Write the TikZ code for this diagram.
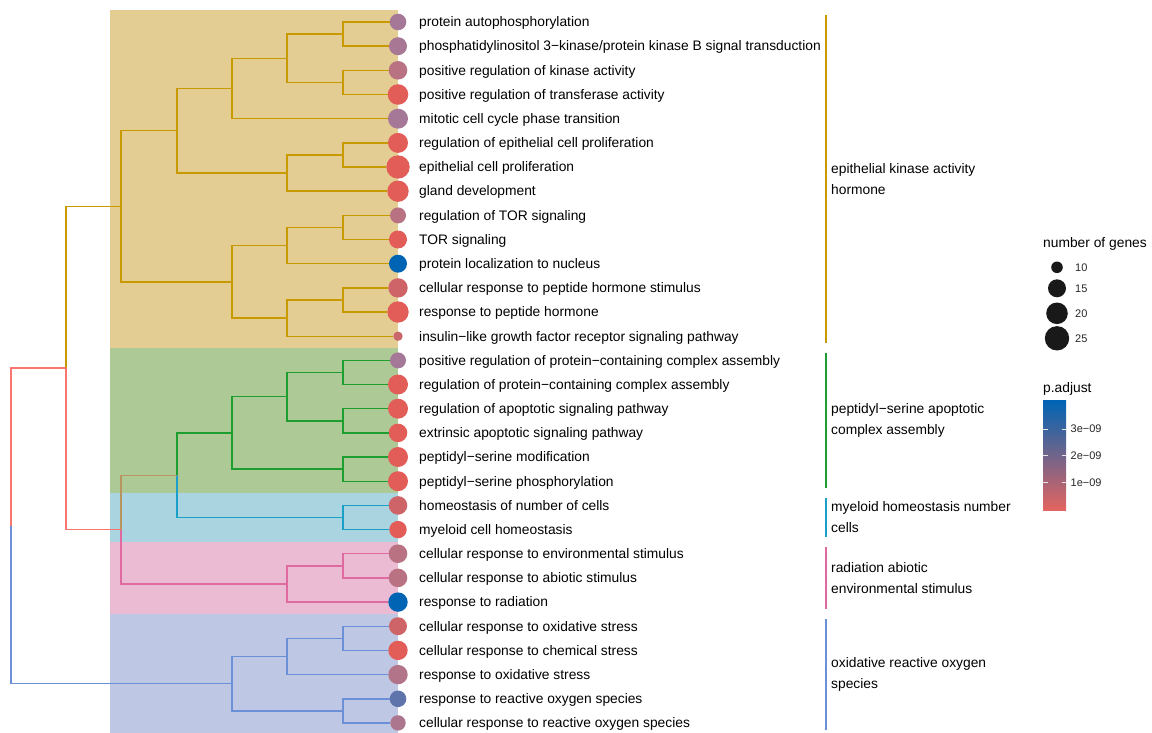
\documentclass[tikz,border=0pt]{standalone}
\usepackage{fontspec}
\setmainfont{Liberation Sans}
\usepackage{xcolor}
\usetikzlibrary{shapes, positioning}

\definecolor{bgYellow}{HTML}{E4CD92}
\definecolor{bgGreen}{HTML}{ADCA96}
\definecolor{bgCyan}{HTML}{AAD4DF}
\definecolor{bgPink}{HTML}{EBBBD4}
\definecolor{bgBlue}{HTML}{BEC8E4}
\definecolor{lnGold}{HTML}{C99A00}
\definecolor{lnGreen}{HTML}{1E9E2E}
\definecolor{lnCyan}{HTML}{1AA0C8}
\definecolor{lnPink}{HTML}{E06AA0}
\definecolor{lnBlue}{HTML}{6B90D8}
\definecolor{lnSalmon}{HTML}{F8766D}
\definecolor{lnTan}{HTML}{B8955E}
\definecolor{pRed}{HTML}{E25C58}
\definecolor{pRose}{HTML}{CE6468}
\definecolor{pMauve}{HTML}{B87282}
\definecolor{pPlum}{HTML}{A47896}
\definecolor{pBlue}{HTML}{0064B4}
\definecolor{pSlate}{HTML}{5E74AA}
\definecolor{pMid}{HTML}{A8748F}

\begin{document}
\begin{tikzpicture}[x=1pt, y=-1pt,
    leaf/.style={circle, inner sep=0pt, draw=none},
    term/.style={anchor=west, inner sep=0pt, text height=10pt, text depth=0.4pt, font=\fontsize{13.8}{16}\selectfont},
    cluster/.style={anchor=west, inner sep=0pt, align=left, font=\fontsize{13.8}{21}\selectfont},
    tick/.style={anchor=west, inner sep=0pt, text=black!85, font=\fontsize{11}{12}\selectfont},
    branch/.style={line width=1.4pt}]
          \useasboundingbox (0,0) rectangle (1152,733);

          % cluster backgrounds
          \fill[bgYellow] (110,10) rectangle (398,348.3);
          \fill[bgGreen] (110,348.3) rectangle (398,493.3);
          \fill[bgCyan] (110,493.3) rectangle (398,541.6);
          \fill[bgPink] (110,541.6) rectangle (398,614.2);
          \fill[bgBlue] (110,614.2) rectangle (398,733);

          \coordinate (a12) at (343,34.1);
          \coordinate (a34) at (343,82.4);
          \coordinate (a14) at (287,58.3);
          \coordinate (a15) at (232,88.5);
          \coordinate (a67) at (343,155.0);
          \coordinate (a68) at (287,173.1);
          \coordinate (a18) at (177,130.8);
          \coordinate (a910) at (343,227.5);
          \coordinate (a911) at (287,245.6);
          \coordinate (a1213) at (343,300.0);
          \coordinate (a1214) at (287,318.1);
          \coordinate (a914) at (232,281.9);
          \coordinate (aTop) at (121,206.3);

          \coordinate (b1516) at (343,372.5);
          \coordinate (b1718) at (343,420.8);
          \coordinate (b1518) at (287,396.6);
          \coordinate (b1920) at (343,469.1);
          \coordinate (bTop) at (232,432.9);
          \coordinate (c2122) at (343,517.5);
          \coordinate (bcTop) at (177,475.2);
          \coordinate (d2324) at (343,565.8);
          \coordinate (dTop) at (287,583.9);
          \coordinate (bcdTop) at (121,529.6);
          \coordinate (upper) at (66,367.9);

          \coordinate (e2627) at (343,638.3);
          \coordinate (e2628) at (287,656.5);
          \coordinate (e2930) at (343,710.9);
          \coordinate (eTop) at (232,683.7);
          \coordinate (root) at (11,525.8);

          \node[leaf, minimum size=16.6pt, fill=pPlum] (l1) at (398,22.0) {};
          \node[leaf, minimum size=18pt, fill=pPlum!85!pMauve] (l2) at (398,46.2) {};
          \node[leaf, minimum size=18.6pt, fill=pMauve] (l3) at (398,70.3) {};
          \node[leaf, minimum size=20.6pt, fill=pRed] (l4) at (398,94.5) {};
          \node[leaf, minimum size=20pt, fill=pPlum] (l5) at (398,118.7) {};
          \node[leaf, minimum size=20pt, fill=pRed] (l6) at (398,142.9) {};
          \node[leaf, minimum size=23.4pt, fill=pRed] (l7) at (398,167.0) {};
          \node[leaf, minimum size=21.4pt, fill=pRed] (l8) at (398,191.2) {};
          \node[leaf, minimum size=16pt, fill=pMauve] (l9) at (398,215.4) {};
          \node[leaf, minimum size=18pt, fill=pRed] (l10) at (398,239.5) {};
          \node[leaf, minimum size=18pt, fill=pBlue] (l11) at (398,263.7) {};
          \node[leaf, minimum size=19.4pt, fill=pRose] (l12) at (398,287.9) {};
          \node[leaf, minimum size=21.4pt, fill=pRed] (l13) at (398,312.0) {};
          \node[leaf, minimum size=9.4pt, fill=pRose!80!pMauve] (l14) at (398,336.2) {};
          \node[leaf, minimum size=16pt, fill=pPlum] (l15) at (398,360.4) {};
          \node[leaf, minimum size=20pt, fill=pRed] (l16) at (398,384.5) {};
          \node[leaf, minimum size=20pt, fill=pRed] (l17) at (398,408.7) {};
          \node[leaf, minimum size=18.6pt, fill=pRed] (l18) at (398,432.9) {};
          \node[leaf, minimum size=20pt, fill=pRed] (l19) at (398,457.0) {};
          \node[leaf, minimum size=20pt, fill=pRed] (l20) at (398,481.2) {};
          \node[leaf, minimum size=18.6pt, fill=pRose] (l21) at (398,505.4) {};
          \node[leaf, minimum size=17.4pt, fill=pRed] (l22) at (398,529.6) {};
          \node[leaf, minimum size=18.6pt, fill=pMauve] (l23) at (398,553.7) {};
          \node[leaf, minimum size=18.6pt, fill=pMauve] (l24) at (398,577.9) {};
          \node[leaf, minimum size=19.4pt, fill=pBlue] (l25) at (398,602.1) {};
          \node[leaf, minimum size=18pt, fill=pRose] (l26) at (398,626.2) {};
          \node[leaf, minimum size=19.4pt, fill=pRed] (l27) at (398,650.4) {};
          \node[leaf, minimum size=19.4pt, fill=pMauve!70!pPlum] (l28) at (398,674.6) {};
          \node[leaf, minimum size=16.6pt, fill=pSlate] (l29) at (398,698.8) {};
          \node[leaf, minimum size=15.4pt, fill=pPlum!60!pMauve] (l30) at (398,722.9) {};

          \draw[branch, lnGold] (a12) |- (l1);
          \draw[branch, lnGold] (a12) |- (l2);
          \draw[branch, lnGold] (a34) |- (l3);
          \draw[branch, lnGold] (a34) |- (l4);
          \draw[branch, lnGold] (a14) |- (a12);
          \draw[branch, lnGold] (a14) |- (a34);
          \draw[branch, lnGold] (a15) |- (a14);
          \draw[branch, lnGold] (a15) |- (l5);
          \draw[branch, lnGold] (a67) |- (l6);
          \draw[branch, lnGold] (a67) |- (l7);
          \draw[branch, lnGold] (a68) |- (a67);
          \draw[branch, lnGold] (a68) |- (l8);
          \draw[branch, lnGold] (a18) |- (a15);
          \draw[branch, lnGold] (a18) |- (a68);
          \draw[branch, lnGold] (a910) |- (l9);
          \draw[branch, lnGold] (a910) |- (l10);
          \draw[branch, lnGold] (a911) |- (a910);
          \draw[branch, lnGold] (a911) |- (l11);
          \draw[branch, lnGold] (a1213) |- (l12);
          \draw[branch, lnGold] (a1213) |- (l13);
          \draw[branch, lnGold] (a1214) |- (a1213);
          \draw[branch, lnGold] (a1214) |- (l14);
          \draw[branch, lnGold] (a914) |- (a911);
          \draw[branch, lnGold] (a914) |- (a1214);
          \draw[branch, lnGold] (aTop) |- (a18);
          \draw[branch, lnGold] (aTop) |- (a914);

          \draw[branch, lnGreen] (b1516) |- (l15);
          \draw[branch, lnGreen] (b1516) |- (l16);
          \draw[branch, lnGreen] (b1718) |- (l17);
          \draw[branch, lnGreen] (b1718) |- (l18);
          \draw[branch, lnGreen] (b1518) |- (b1516);
          \draw[branch, lnGreen] (b1518) |- (b1718);
          \draw[branch, lnGreen] (b1920) |- (l19);
          \draw[branch, lnGreen] (b1920) |- (l20);
          \draw[branch, lnGreen] (bTop) |- (b1518);
          \draw[branch, lnGreen] (bTop) |- (b1920);
          \draw[branch, lnCyan] (c2122) |- (l21);
          \draw[branch, lnCyan] (c2122) |- (l22);
          \draw[branch, lnGreen] (bcTop) |- (bTop);
          \draw[branch, lnCyan] (bcTop) |- (c2122);

          \draw[branch, lnPink] (d2324) |- (l23);
          \draw[branch, lnPink] (d2324) |- (l24);
          \draw[branch, lnPink] (dTop) |- (d2324);
          \draw[branch, lnPink] (dTop) |- (l25);
          \draw[branch, lnTan] (bcdTop) |- (bcTop);
          \draw[branch, lnPink] (bcdTop) |- (dTop);

          \draw[branch, lnGold] (upper) |- (aTop);
          \draw[branch, lnSalmon] (upper) |- (bcdTop);

          \draw[branch, lnBlue] (e2627) |- (l26);
          \draw[branch, lnBlue] (e2627) |- (l27);
          \draw[branch, lnBlue] (e2628) |- (e2627);
          \draw[branch, lnBlue] (e2628) |- (l28);
          \draw[branch, lnBlue] (e2930) |- (l29);
          \draw[branch, lnBlue] (e2930) |- (l30);
          \draw[branch, lnBlue] (eTop) |- (e2628);
          \draw[branch, lnBlue] (eTop) |- (e2930);

          \draw[branch, lnSalmon] (root) |- (upper);
          \draw[branch, lnBlue] (root) |- (eTop);

          \node[term] (t1) at (419,22.0) {protein autophosphorylation};
          \node[term] (t2) at (419,46.2) {phosphatidylinositol 3−kinase/protein kinase B signal transduction};
          \node[term] (t3) at (419,70.3) {positive regulation of kinase activity};
          \node[term] (t4) at (419,94.5) {positive regulation of transferase activity};
          \node[term] (t5) at (419,118.7) {mitotic cell cycle phase transition};
          \node[term] (t6) at (419,142.9) {regulation of epithelial cell proliferation};
          \node[term] (t7) at (419,167.0) {epithelial cell proliferation};
          \node[term] (t8) at (419,191.2) {gland development};
          \node[term] (t9) at (419,215.4) {regulation of TOR signaling};
          \node[term] (t10) at (419,239.5) {TOR signaling};
          \node[term] (t11) at (419,263.7) {protein localization to nucleus};
          \node[term] (t12) at (419,287.9) {cellular response to peptide hormone stimulus};
          \node[term] (t13) at (419,312.0) {response to peptide hormone};
          \node[term] (t14) at (419,336.2) {insulin−like growth factor receptor signaling pathway};
          \node[term] (t15) at (419,360.4) {positive regulation of protein−containing complex assembly};
          \node[term] (t16) at (419,384.5) {regulation of protein−containing complex assembly};
          \node[term] (t17) at (419,408.7) {regulation of apoptotic signaling pathway};
          \node[term] (t18) at (419,432.9) {extrinsic apoptotic signaling pathway};
          \node[term] (t19) at (419,457.0) {peptidyl−serine modification};
          \node[term] (t20) at (419,481.2) {peptidyl−serine phosphorylation};
          \node[term] (t21) at (419,505.4) {homeostasis of number of cells};
          \node[term] (t22) at (419,529.6) {myeloid cell homeostasis};
          \node[term] (t23) at (419,553.7) {cellular response to environmental stimulus};
          \node[term] (t24) at (419,577.9) {cellular response to abiotic stimulus};
          \node[term] (t25) at (419,602.1) {response to radiation};
          \node[term] (t26) at (419,626.2) {cellular response to oxidative stress};
          \node[term] (t27) at (419,650.4) {cellular response to chemical stress};
          \node[term] (t28) at (419,674.6) {response to oxidative stress};
          \node[term] (t29) at (419,698.8) {response to reactive oxygen species};
          \node[term] (t30) at (419,722.9) {cellular response to reactive oxygen species};

          % cluster bars and their labels
          \coordinate (kTop) at (826,15);   \coordinate (kBot) at (826,343);
          \coordinate (sTop) at (826,353);  \coordinate (sBot) at (826,488);
          \coordinate (mTop) at (826,498);  \coordinate (mBot) at (826,537);
          \coordinate (rTop) at (826,547);  \coordinate (rBot) at (826,609);
          \coordinate (oTop) at (826,619);  \coordinate (oBot) at (826,730);
          \draw[branch, lnGold] (kTop) -- (kBot);
          \draw[branch, lnGreen] (sTop) -- (sBot);
          \draw[branch, lnCyan] (mTop) -- (mBot);
          \draw[branch, lnPink] (rTop) -- (rBot);
          \draw[branch, lnBlue] (oTop) -- (oBot);

          \node[cluster] (kinase) at (831,179.1) {epithelial kinase activity\\hormone};
          \node[cluster] (serine) at (831,420.8) {peptidyl−serine apoptotic\\complex assembly};
          \node[cluster] (myeloid) at (831,517.5) {myeloid homeostasis number\\cells};
          \node[cluster] (radiation) at (831,577.9) {radiation abiotic\\environmental stimulus};
          \node[cluster] (oxidative) at (831,674.6) {oxidative reactive oxygen\\species};

          % legends
          \node[term] (sizeTitle) at (1043,243) {number of genes};
          \node[leaf, minimum size=11.6pt, fill=black!90] (g10) at (1057,267.3) {};
          \node[leaf, minimum size=18pt, fill=black!90] (g15) at (1057,288.3) {};
          \node[leaf, minimum size=21.6pt, fill=black!90] (g20) at (1057,313.3) {};
          \node[leaf, minimum size=24.4pt, fill=black!90] (g25) at (1057,338.3) {};
          \node[tick] (n10) at (1075,267.3) {10};
          \node[tick] (n15) at (1075,288.3) {15};
          \node[tick] (n20) at (1075,313.3) {20};
          \node[tick] (n25) at (1075,338.3) {25};

          \node[term] (colorTitle) at (1043,388) {p.adjust};
          \node[minimum width=23pt, minimum height=109.3pt, inner sep=0pt, top color=pBlue, middle color=pMid, bottom color=pRed!95!white] (pbar) at (1054.5,455.35) {};
          \foreach \y in {429,455.7,482.3} {
            \draw[white!80!gray, line width=0.6pt] (1043,\y) -- (1047.5,\y);
            \draw[white!80!gray, line width=0.6pt] (1061.5,\y) -- (1066,\y);
          }
          \node[tick] (p3) at (1070.5,429) {3e−09};
          \node[tick] (p2) at (1070.5,455.7) {2e−09};
          \node[tick] (p1) at (1070.5,482.3) {1e−09};

        \end{tikzpicture}
\end{document}
